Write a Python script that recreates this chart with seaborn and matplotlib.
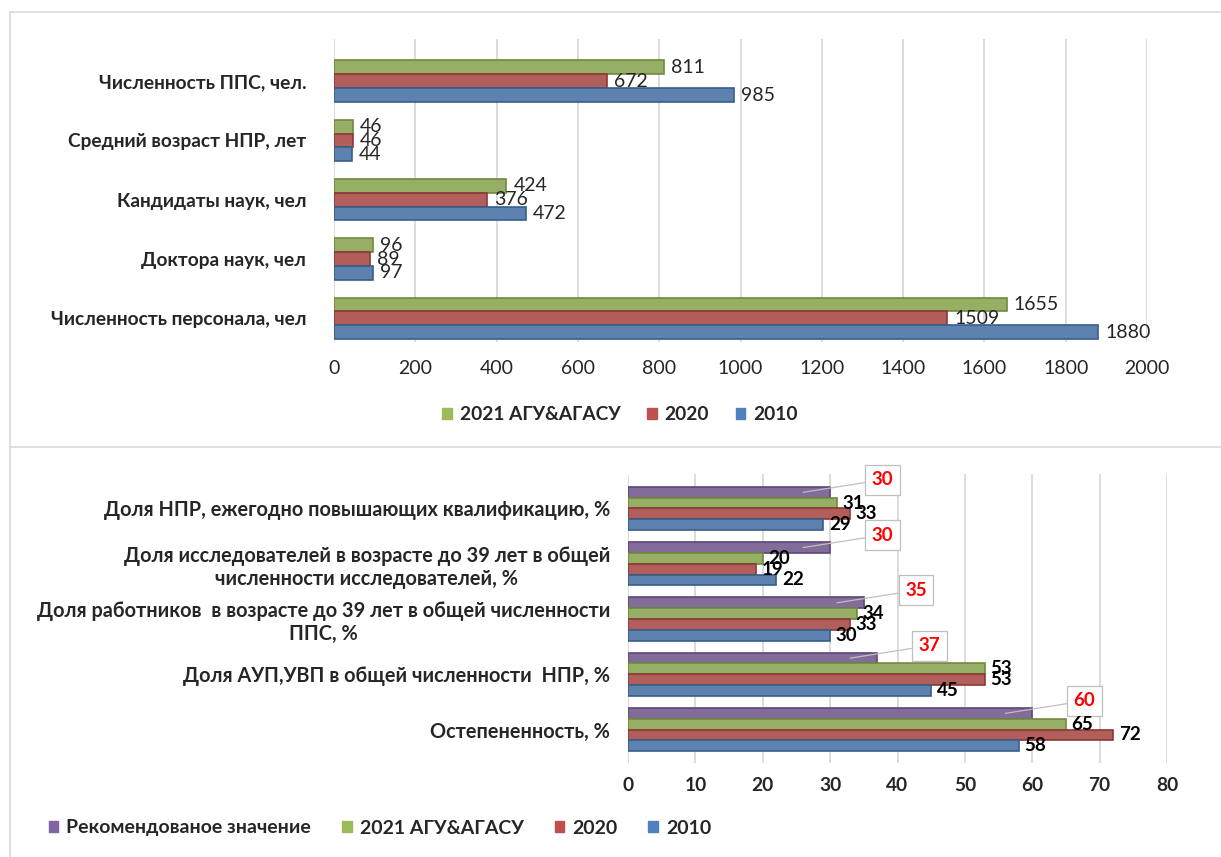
import pandas as pd
import numpy as np
import seaborn as sns
import matplotlib.pyplot as plt
from matplotlib.lines import Line2D
from matplotlib.patches import Patch

# top chart: staff numbers
top_cats = ["Численность ППС, чел.", "Средний возраст НПР, лет", "Кандидаты наук, чел",
            "Доктора наук, чел", "Численность персонала, чел"]
top_2021 = [811, 46, 424, 96, 1655]
top_2020 = [672, 46, 376, 89, 1509]
top_2010 = [985, 44, 472, 97, 1880]

# bottom chart: shares, %
bot_cats = ["Доля НПР, ежегодно повышающих квалификацию, %",
            "Доля исследователей в возрасте до 39 лет в общей\nчисленности исследователей, %",
            "Доля работников  в возрасте до 39 лет в общей численности\nППС, %",
            "Доля АУП,УВП в общей численности  НПР, %",
            "Остепененность, %"]
bot_rec = [30, 30, 35, 37, 60]
bot_2021 = [31, 20, 34, 53, 65]
bot_2020 = [33, 19, 33, 53, 72]
bot_2010 = [29, 22, 30, 45, 58]

series = ["Рекомендованое значение", "2021 АГУ&АГАСУ", "2020", "2010"]
fill = {"Рекомендованое значение": "#8064A2", "2021 АГУ&АГАСУ": "#9BBB59",
        "2020": "#C0504D", "2010": "#4F81BD"}
edge = {"Рекомендованое значение": "#5C4776", "2021 АГУ&АГАСУ": "#71893F",
        "2020": "#8C3836", "2010": "#385D8A"}

top_df = pd.concat([pd.DataFrame({"cat": top_cats, "value": v, "series": s})
                    for s, v in zip(series[1:], [top_2021, top_2020, top_2010])])
bot_df = pd.concat([pd.DataFrame({"cat": bot_cats, "value": v, "series": s})
                    for s, v in zip(series, [bot_rec, bot_2021, bot_2020, bot_2010])])

sns.set_style("white")
plt.rcParams["font.family"] = ["Lato", "DejaVu Sans"]

W, H = 1221, 857
fig = plt.figure(figsize=(W / 100, H / 100), dpi=100)

# ---- top panel
ax1 = fig.add_axes([334 / W, 1 - 342 / H, 813 / W, 303.5 / H])
sns.barplot(data=top_df, y="cat", x="value", hue="series", hue_order=series[1:],
            palette=fill, orient="h", width=0.7, ax=ax1, legend=False)
for cont, s in zip(ax1.containers, series[1:]):
    for b in cont:
        b.set_edgecolor(edge[s])
        b.set_linewidth(1.2)
    ax1.bar_label(cont, padding=5, fontsize=14, color="#262626")
ax1.set_xlim(0, 2000)
ax1.set_xticks(np.arange(0, 2001, 200))
ax1.set_ylim(4.4, -0.72)
ax1.set_xlabel("")
ax1.set_ylabel("")
ax1.xaxis.grid(True, color="#D9D9D9", lw=1.3)
ax1.set_axisbelow(True)
sns.despine(ax=ax1, left=True, bottom=True)
ax1.tick_params(axis="x", length=0, pad=13, labelsize=14, labelcolor="#262626")
ax1.tick_params(axis="y", length=0, pad=20, labelsize=13.8)
for t in ax1.get_yticklabels():
    t.set_fontweight("bold")

fig.legend(handles=[Patch(color=fill[s], label=s) for s in series[1:]],
           loc="center", bbox_to_anchor=(620 / W, 1 - 415 / H), ncol=3, frameon=False,
           prop={"weight": "bold", "size": 13.8}, handlelength=0.5, handleheight=0.5,
           columnspacing=1.4, handletextpad=0.4)

# ---- bottom panel
ax2 = fig.add_axes([628 / W, 1 - 762.7 / H, 539 / W, 288.5 / H])
sns.barplot(data=bot_df, y="cat", x="value", hue="series", hue_order=series,
            palette=fill, orient="h", width=0.78, ax=ax2, legend=False)
for cont, s in zip(ax2.containers, series):
    for b in cont:
        b.set_edgecolor(edge[s])
        b.set_linewidth(1.2)
    if s == series[0]:
        for b in cont:
            w = b.get_width()
            yc = b.get_y() + b.get_height() / 2
            ax2.annotate(f"{w:.0f}", xy=(w - 4, yc), xytext=(57, 9), textcoords="offset points",
                         ha="center", va="center", color="red", fontweight="bold", fontsize=13.5,
                         bbox=dict(boxstyle="square,pad=0.35", fc="white", ec="#BFBFBF", lw=0.9),
                         arrowprops=dict(arrowstyle="-", color="#BFBFBF", lw=0.9,
                                         shrinkA=0, shrinkB=0))
    else:
        ax2.bar_label(cont, padding=4, fontsize=13.5, fontweight="bold", color="black")
ax2.set_xlim(0, 80)
ax2.set_xticks(np.arange(0, 81, 10))
ax2.set_ylim(4.6, -0.62)
ax2.set_xlabel("")
ax2.set_ylabel("")
ax2.xaxis.grid(True, color="#D9D9D9", lw=1.3)
ax2.set_axisbelow(True)
sns.despine(ax=ax2, left=True, bottom=True)
ax2.tick_params(axis="x", length=0, pad=10, labelsize=13.8)
ax2.tick_params(axis="y", length=0, pad=13, labelsize=14.3)
for t in ax2.get_xticklabels():
    t.set_fontweight("bold")
for t in ax2.get_yticklabels():
    t.set_fontweight("bold")
    t.set_multialignment("center")

fig.legend(handles=[Patch(color=fill[s], label=s) for s in series],
           loc="center", bbox_to_anchor=(380 / W, 1 - 828 / H), ncol=4, frameon=False,
           prop={"weight": "bold", "size": 14}, handlelength=0.5, handleheight=0.5,
           columnspacing=1.6, handletextpad=0.4)

# light frame lines around the two charts
fig.add_artist(Line2D([10 / W, 1], [1 - 12 / H] * 2, color="#D9D9D9", lw=1.2))
fig.add_artist(Line2D([10 / W, 10 / W], [0, 1 - 12 / H], color="#D9D9D9", lw=1.2))
fig.add_artist(Line2D([10 / W, 1], [1 - 447 / H] * 2, color="#D9D9D9", lw=1.2))

fig.savefig("out.png", dpi=100)
